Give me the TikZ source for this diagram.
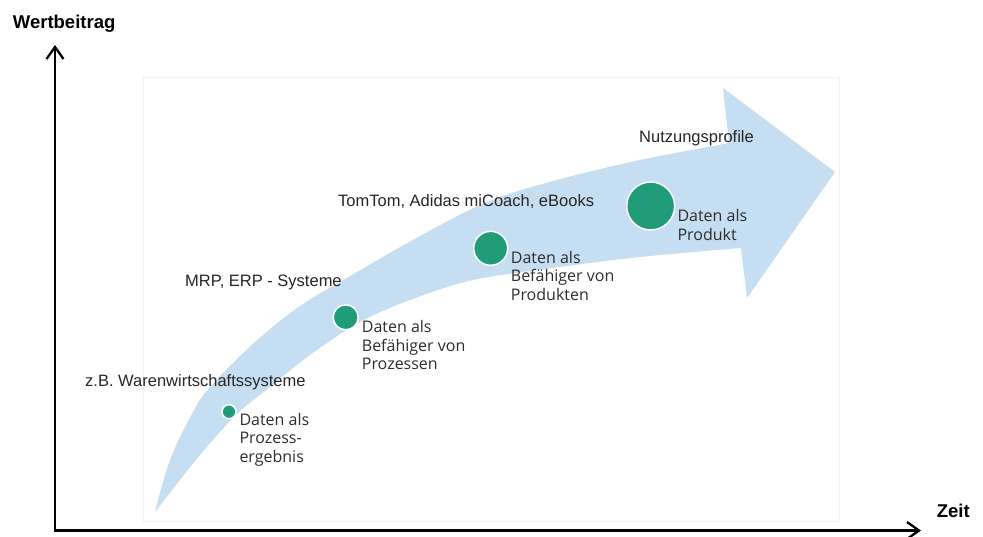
\documentclass[tikz,border=0pt]{standalone}
\usepackage{fontspec}
\setmainfont{Liberation Sans}
\newfontfamily\frut{Open Sans}
\usetikzlibrary{arrows.meta}
\definecolor{arrowblue}{RGB}{198,222,241}
\definecolor{dotgreen}{RGB}{32,157,120}
\definecolor{txtdark}{RGB}{45,45,45}
\begin{document}
\begin{tikzpicture}[x=1pt,y=-1pt,
  lbl/.style={font=\fontsize{16.5}{19}\selectfont, text=black!85, inner sep=0pt, anchor=base west},
  stage/.style={font=\frut\fontsize{16}{18.5}\selectfont, text=txtdark, inner sep=0pt, anchor=base west, align=left},
  dot/.style={circle, fill=dotgreen, draw=white, line width=1.5pt, inner sep=0pt},
  axislbl/.style={font=\bfseries\fontsize{18.5}{22}\selectfont, inner sep=0pt, anchor=base west},
  axisline/.style={line width=2.3pt, {Straight Barb[length=12pt,width=17pt]}-{Straight Barb[length=12pt,width=17pt]}}]
\useasboundingbox (0,0) rectangle (983,536);
% faint frame of the embedded picture
\draw[black!6, line width=0.8pt] (143,77) rectangle (839,521);
% big curved arrow
\fill[arrowblue] plot[smooth, tension=0.55] coordinates {(155,512) (170,460) (193,412) (210,387) (255,342) (300,306) (345,279) (420,236) (487,202) (553,181) (640,160) (729,143)}
  -- (723,88) -- (835,172) -- (747,298) -- (741,248)
  -- plot[smooth, tension=0.55] coordinates {(741,248) (640,257) (560,267) (473,280) (410,300) (360,322) (310,355) (270,387) (237,414) (200,455) (155,512)}
  -- cycle;
% dots
\node[dot, minimum size=14pt] (d1) at (229,411.7) {};
\node[dot, minimum size=25pt] (d2) at (345.7,317.3) {};
\node[dot, minimum size=34pt] (d3) at (490.7,248.3) {};
\node[dot, minimum size=48pt] (d4) at (650.7,206) {};
% stage texts (anchor = baseline of last line)
\node[stage] (s1) at (239.3,462) {Daten als\\Prozess-\\ergebnis};
\node[stage] (s2) at (361.7,369.7) {Daten als\\Befähiger von\\Prozessen};
\node[stage] (s3) at (510.7,300.3) {Daten als\\Befähiger von\\Produkten};
\node[stage] (s4) at (677.3,240.2) {Daten als\\Produkt};
% example labels
\node[lbl] (l1) at (85,386.7) {z.B. Warenwirtschaftssysteme};
\node[lbl] (l2) at (185,286) {MRP, ERP - Systeme};
\node[lbl] (l3) at (338,206) {TomTom, Adidas miCoach, eBooks};
\node[lbl] (l4) at (639,142.7) {Nutzungsprofile};
% axes
\coordinate (o) at (55,530.5);
\coordinate (ytip) at (55,45);
\coordinate (xtip) at (921,530.5);
\draw[axisline] (ytip) -- (o) -- (xtip);
\node[axislbl] (wb) at (12.7,28.3) {Wertbeitrag};
\node[axislbl] (zt) at (936.7,517) {Zeit};
\end{tikzpicture}
\end{document}
